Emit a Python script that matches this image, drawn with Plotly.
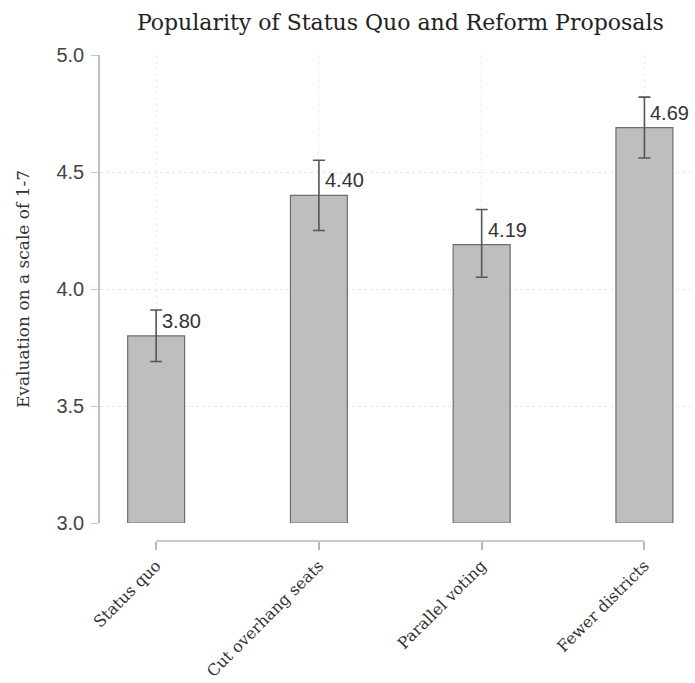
import plotly.graph_objects as go

categories = ["Status quo", "Cut overhang seats", "Parallel voting", "Fewer districts"]
means = [3.80, 4.40, 4.19, 4.69]
ci_low = [3.69, 4.25, 4.05, 4.56]
ci_high = [3.91, 4.55, 4.34, 4.82]
labels = ["3.80", "4.40", "4.19", "4.69"]
baseline = 3.0
y_ticks = [3.0, 3.5, 4.0, 4.5, 5.0]

xpos = list(range(len(categories)))
heights = [m - baseline for m in means]
err_plus = [h - m for h, m in zip(ci_high, means)]
err_minus = [m - l for m, l in zip(means, ci_low)]

fig = go.Figure()
fig.add_trace(go.Bar(
    x=xpos, y=heights, base=[baseline] * len(means), width=0.35,
    marker=dict(color="#bebebe", line=dict(color="#6e6e6e", width=1.2)),
    error_y=dict(type="data", symmetric=False, array=err_plus, arrayminus=err_minus,
                 color="#555555", thickness=1.6, width=6),
    hoverinfo="skip", showlegend=False,
))

for xp, m, lab in zip(xpos, means, labels):
    fig.add_annotation(x=xp, y=m, text=lab, showarrow=False, xanchor="left",
                       yanchor="middle", xshift=4, yshift=15,
                       font=dict(family="Liberation Sans, Arial", size=20, color="#333333"))

# x axis line spanning first to last category
fig.add_shape(type="line", xref="x", yref="paper", x0=xpos[0], x1=xpos[-1], y0=0, y1=0,
              line=dict(color="#b8b8b8", width=1.5))

fig.update_layout(
    width=695, height=683,
    margin=dict(l=100, r=5, t=55, b=142, autoexpand=False),
    paper_bgcolor="white", plot_bgcolor="white",
    title=dict(text="Popularity of Status Quo and Reform Proposals",
               font=dict(family="DejaVu Serif", size=22, color="#222222"),
               x=0.576, xanchor="center", y=0.968, yanchor="middle", automargin=False),
    xaxis=dict(
        range=[-0.345, 3.28], tickmode="array", tickvals=xpos, ticktext=categories,
        tickangle=-45, anchor="free", position=0, automargin=False,
        ticks="outside", ticklen=8, tickcolor="#b8b8b8", tickwidth=1.5,
        showline=False, zeroline=False,
        showgrid=True, gridcolor="#ececec", griddash="dot", gridwidth=1,
        tickfont=dict(family="DejaVu Serif", size=16, color="#333333"),
    ),
    yaxis=dict(
        domain=[0.037, 1], range=[3.0, 5.0], tickvals=y_ticks,
        ticktext=[f"{v:.1f}" for v in y_ticks], automargin=False,
        ticks="outside", ticklen=7, tickcolor="#c8c8c8", tickwidth=1.2,
        ticklabelstandoff=3,
        showline=True, linecolor="#c0c0c0", linewidth=1.5,
        showgrid=True, gridcolor="#e6e6e6", griddash="dot", gridwidth=1,
        zeroline=False,
        tickfont=dict(family="Liberation Sans, Arial", size=20, color="#444444"),
        title=dict(text="Evaluation on a scale of 1-7", standoff=22,
                   font=dict(family="DejaVu Serif", size=17, color="#333333")),
    ),
)

fig.write_html("out.html", config={"displayModeBar": False},
               post_script="document.body.style.margin='0px';")
